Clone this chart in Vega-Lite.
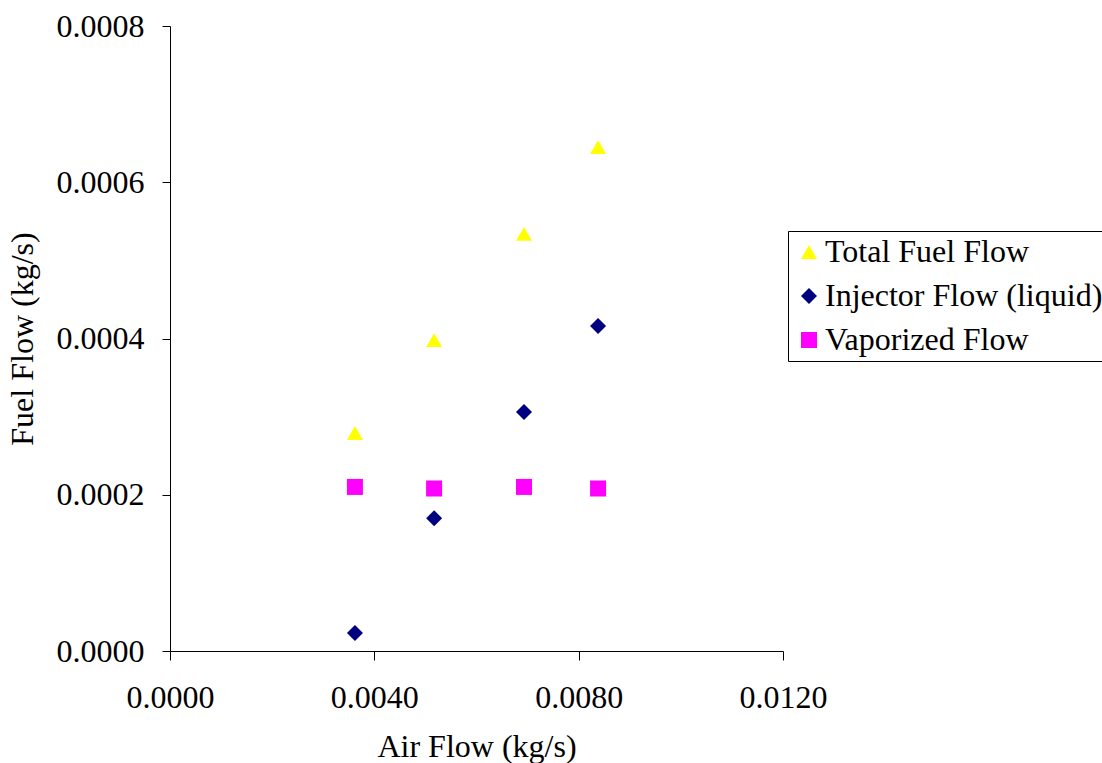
{
  "$schema": "https://vega.github.io/schema/vega-lite/v6.json",
  "width": 613,
  "height": 625,
  "autosize": {"type": "none"},
  "padding": {"left": 170, "top": 26, "right": 319, "bottom": 112},
  "background": "white",
  "config": {"view": {"stroke": null}, "font": "Liberation Serif"},
  "data": {
    "values": [
      {"air": 0.00362, "flow": 0.000279, "series": "Total Fuel Flow"},
      {"air": 0.00517, "flow": 0.000398, "series": "Total Fuel Flow"},
      {"air": 0.00693, "flow": 0.000534, "series": "Total Fuel Flow"},
      {"air": 0.00838, "flow": 0.000645, "series": "Total Fuel Flow"},
      {"air": 0.00362, "flow": 0.000023, "series": "Injector Flow (liquid)"},
      {"air": 0.00517, "flow": 0.000170, "series": "Injector Flow (liquid)"},
      {"air": 0.00693, "flow": 0.000306, "series": "Injector Flow (liquid)"},
      {"air": 0.00838, "flow": 0.000416, "series": "Injector Flow (liquid)"},
      {"air": 0.00362, "flow": 0.000210, "series": "Vaporized Flow"},
      {"air": 0.00517, "flow": 0.000208, "series": "Vaporized Flow"},
      {"air": 0.00693, "flow": 0.000210, "series": "Vaporized Flow"},
      {"air": 0.00838, "flow": 0.000208, "series": "Vaporized Flow"}
    ]
  },
  "mark": {"type": "point", "filled": true, "opacity": 1, "size": 256},
  "encoding": {
    "x": {
      "field": "air",
      "type": "quantitative",
      "scale": {"domain": [0, 0.012], "nice": false, "zero": true},
      "axis": {
        "values": [0, 0.004, 0.008, 0.012],
        "format": ".4f",
        "grid": false,
        "labelFlush": false,
        "domainColor": "black",
        "tickColor": "black",
        "tickSize": 9,
        "labelFontSize": 32,
        "labelColor": "black",
        "labelPadding": 22,
        "title": "Air Flow (kg/s)",
        "titleFontSize": 32,
        "titleFontWeight": "normal",
        "titleColor": "black",
        "titlePadding": 18
      }
    },
    "y": {
      "field": "flow",
      "type": "quantitative",
      "scale": {"domain": [0, 0.0008], "nice": false},
      "axis": {
        "values": [0, 0.0002, 0.0004, 0.0006, 0.0008],
        "format": ".4f",
        "grid": false,
        "labelFlush": false,
        "domainColor": "black",
        "tickColor": "black",
        "tickSize": 8,
        "labelFontSize": 32,
        "labelColor": "black",
        "labelPadding": 18,
        "title": "Fuel Flow (kg/s)",
        "titleFontSize": 32,
        "titleFontWeight": "normal",
        "titleColor": "black",
        "titlePadding": 17
      }
    },
    "color": {
      "field": "series",
      "type": "nominal",
      "scale": {
        "domain": ["Total Fuel Flow", "Injector Flow (liquid)", "Vaporized Flow"],
        "range": ["#FFFF00", "#000080", "#FF00FF"]
      },
      "legend": {
        "title": null,
        "orient": "none",
        "legendX": 618,
        "legendY": 205,
        "strokeColor": "black",
        "fillColor": "white",
        "padding": 5,
        "labelFontSize": 32,
        "labelColor": "black",
        "labelLimit": 400,
        "labelOffset": 0,
        "symbolSize": 256,
        "rowPadding": 12
      }
    },
    "shape": {
      "field": "series",
      "type": "nominal",
      "scale": {
        "domain": ["Total Fuel Flow", "Injector Flow (liquid)", "Vaporized Flow"],
        "range": ["triangle-up", "diamond", "square"]
      },
      "legend": null
    }
  }
}
